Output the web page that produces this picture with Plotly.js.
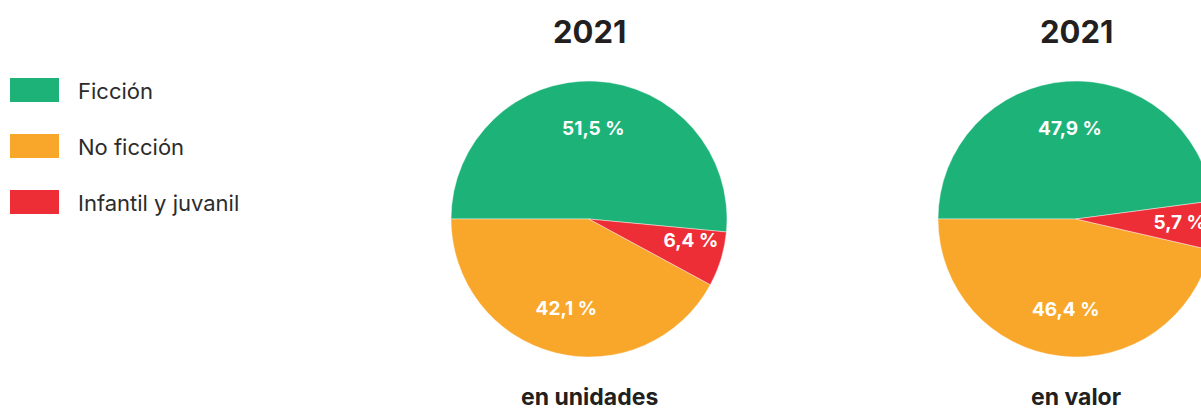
<!DOCTYPE html>
<html>
<head>
<meta charset="utf-8">
<script src="https://cdn.plot.ly/plotly-3.0.1.min.js"></script>
<style>
html,body{margin:0;padding:0;overflow:hidden;background:#fff;}
#chart{width:1300px;height:410px;}
</style>
</head>
<body>
<div id="chart"></div>
<script>
// ---- data ----
var categories = ['Ficción', 'No ficción', 'Infantil y juvanil'];
var unidades2021 = [51.5, 42.1, 6.4];
var valor2021 = [47.9, 46.4, 5.7];
var pieTitles = ['2021', '2021'];
var pieSubtitles = ['en unidades', 'en valor'];
var colors = ['#1db378', '#f9a72b', '#ee2e36'];

function fmt(v){ return v.toFixed(1).replace('.', ',') + ' %'; }

var W = 1300, H = 410;
var FONT = 'Inter, "Noto Sans", sans-serif';
var R = 138;                 // pie radius (px)
var centers = [[589, 219], [1076, 219]];
var BIG_LABEL_SCALE = 1.32;  // invisible pie carrying labels of the large slices
var SMALL_LABEL_SCALE = 0.52; // invisible pie carrying labels of the thin slices (placed just outside it)
var SMALL = 10;              // percent below which a slice counts as thin

function dom(c, r){
  return {x:[(c[0]-r)/W, (c[0]+r)/W], y:[(H-c[1]-r)/H, (H-c[1]+r)/H]};
}
var clear = categories.map(function(){return 'rgba(0,0,0,0)';});
var labelFont = {family:FONT, size:19, color:'#ffffff', weight:700};

function pieTrace(vals, c){
  return {
    type:'pie', labels: categories, values: vals,
    textinfo:'none', hoverinfo:'label+percent',
    sort:false, direction:'counterclockwise', rotation:-90,
    marker:{colors: colors, line:{width:0.6, color:'rgba(255,255,255,0.7)'}},
    domain: dom(c, R), showlegend:false
  };
}
function labelTrace(vals, c, big){
  return {
    type:'pie', labels: categories, values: vals,
    text: vals.map(function(v){ return (big ? v >= SMALL : v < SMALL) ? fmt(v) : ''; }),
    textinfo:'text', texttemplate:'%{text}',
    textposition: big ? 'inside' : 'outside',
    insidetextorientation:'horizontal',
    textfont: labelFont, insidetextfont: labelFont, outsidetextfont: labelFont,
    hoverinfo:'skip',
    sort:false, direction:'counterclockwise', rotation:-90,
    marker:{colors: clear, line:{width:0}},
    domain: dom(c, R*(big ? BIG_LABEL_SCALE : SMALL_LABEL_SCALE)), showlegend:false
  };
}

var data = [
  pieTrace(unidades2021, centers[0]), pieTrace(valor2021, centers[1]),
  labelTrace(unidades2021, centers[0], true), labelTrace(valor2021, centers[1], true),
  labelTrace(unidades2021, centers[0], false), labelTrace(valor2021, centers[1], false)
];

var annotations = [];
var shapes = [];
centers.forEach(function(c, i){
  var cx = c[0]/W;
  annotations.push({xref:'paper', yref:'paper', x:cx, y:1-32/H, xanchor:'center', yanchor:'middle',
    text:'<b>'+pieTitles[i]+'</b>', showarrow:false, font:{family:FONT, size:31, color:'#231f20'}});
  annotations.push({xref:'paper', yref:'paper', x:cx, y:1-397/H, xanchor:'center', yanchor:'middle',
    text:'<b>'+pieSubtitles[i]+'</b>', showarrow:false, font:{family:FONT, size:23, color:'#231f20'}});
});
categories.forEach(function(c, i){
  var yc = 90 + i*56;
  shapes.push({type:'rect', xref:'paper', yref:'paper', x0:10/W, x1:59/W, y0:1-(yc-12)/H, y1:1-(yc+12)/H,
    fillcolor: colors[i], line:{width:0}});
  annotations.push({xref:'paper', yref:'paper', x:76/W, y:1-(yc+1)/H, xanchor:'left', yanchor:'middle',
    text:c, showarrow:false, font:{family:FONT, size:22, color:'#2b2b2b'}});
});

var layout = {
  width:W, height:H,
  margin:{l:0, r:0, t:0, b:0},
  paper_bgcolor:'#ffffff', plot_bgcolor:'#ffffff',
  showlegend:false,
  annotations: annotations, shapes: shapes,
  font:{family:FONT}
};

Plotly.newPlot('chart', data, layout, {displayModeBar:false, staticPlot:true});
</script>
</body>
</html>
